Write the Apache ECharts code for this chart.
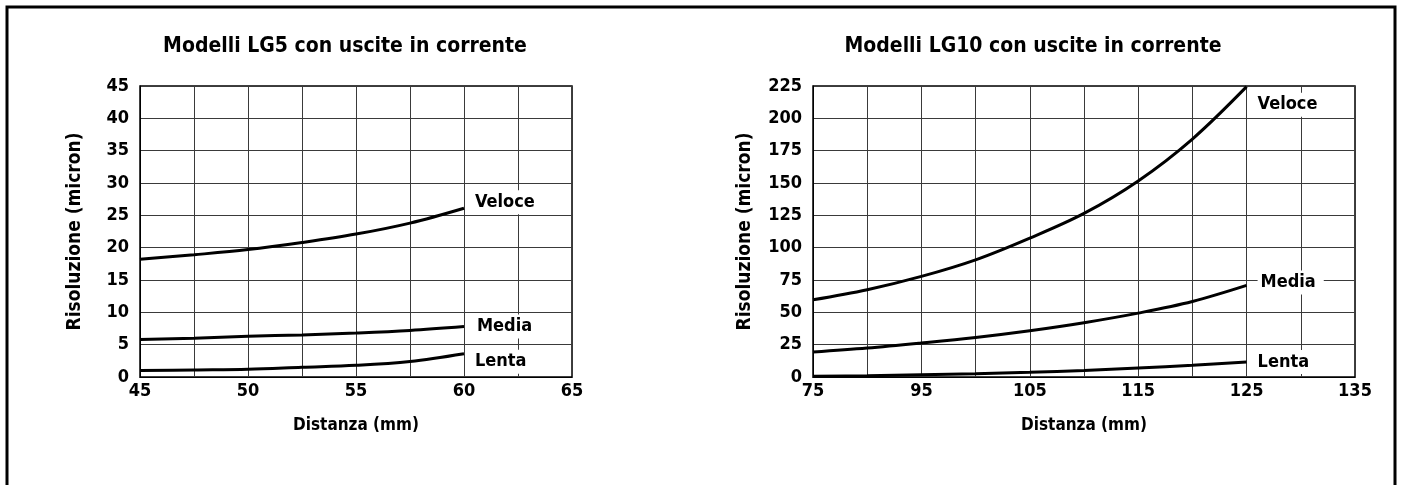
<!DOCTYPE html>
<html>
<head>
<meta charset="utf-8">
<script src="https://cdn.jsdelivr.net/npm/echarts@6/dist/echarts.min.js"></script>
<style>
html,body{margin:0;padding:0;background:#fff;}
#c{width:1401px;height:485px;}
</style>
</head>
<body>
<div id="c"></div>
<script>
// ---- data: LG5 ----
var lg5Title = 'Modelli LG5 con uscite in corrente';
var lg5X = [45, 47.5, 50, 52.5, 55, 57.5, 60];
var lg5Veloce = [18.2, 18.9, 19.7, 20.8, 22.1, 23.8, 26.1];
var lg5Media = [5.8, 6.0, 6.3, 6.5, 6.8, 7.2, 7.8];
var lg5Lenta = [1.0, 1.1, 1.2, 1.5, 1.8, 2.4, 3.6];
var lg5XTicks = [45, 50, 55, 60, 65];

// ---- data: LG10 ----
var lg10Title = 'Modelli LG10 con uscite in corrente';
var lg10X = [85, 90, 95, 100, 105, 110, 115, 120, 125];
var lg10Veloce = [59.7, 67.5, 77.8, 90.6, 107.4, 126.5, 151.6, 184, 224.5];
var lg10Media = [19.3, 22.4, 26.3, 30.6, 35.8, 42, 49.4, 58.4, 70.8];
var lg10Lenta = [0.5, 1.0, 1.8, 2.6, 3.6, 5.1, 7.0, 9.0, 11.6];
var lg10XTickValues = [85, 95, 105, 115, 125, 135];
var lg10XTickLabels = ['75', '95', '105', '115', '125', '135'];

var seriesNames = ['Veloce', 'Media', 'Lenta'];
var yName = 'Risoluzione (micron)';
var xName = 'Distanza (mm)';

var FONT = '"Liberation Sans Narrow","DejaVu Sans Condensed","Roboto",sans-serif';

function pairs(xs, ys){ return xs.map(function(x,i){return [x, ys[i]];}); }

var chart = echarts.init(document.getElementById('c'), null, {renderer:'canvas'});

var txt = {fontFamily: FONT, fontWeight: 'bold', color: '#000'};

function yAxisCfg(gi, max, interval){
  return {
    type:'value', gridIndex: gi, min:0, max:max, interval:interval,
    axisLine:{show:true, lineStyle:{color:'#000', width:1}},
    axisTick:{show:false},
    axisLabel:Object.assign({fontSize:18, margin:11}, txt),
    splitLine:{show:true, lineStyle:{color:'#3a3a3a', width:1}}
  };
}

function lineSeries(name, xi, data, offset){
  return {
    type:'line', name:name, xAxisIndex:xi, yAxisIndex:xi,
    data:data, smooth:0.35, symbol:'none', silent:true,
    lineStyle:{color:'#000', width:3},
    endLabel:Object.assign({show:true, formatter:name, fontSize:18, distance:8,
      offset:offset, backgroundColor:'#fff', padding:[3,8,3,3]}, txt)
  };
}

var option = {
  backgroundColor:'#fff',
  animation:false,
  grid:[
    {left:140, top:86, width:432, height:291, show:true, borderColor:'#000', borderWidth:1.5, backgroundColor:'transparent'},
    {left:813, top:86, width:542, height:291, show:true, borderColor:'#000', borderWidth:1.5, backgroundColor:'transparent'}
  ],
  xAxis:[
    {type:'value', gridIndex:0, min:45, max:65, interval:2.5,
     name:xName, nameLocation:'middle', nameGap:40,
     nameTextStyle:Object.assign({fontSize:17}, txt),
     axisLine:{show:true, lineStyle:{color:'#000'}}, axisTick:{show:false},
     axisLabel:Object.assign({fontSize:18, margin:5,
       formatter:function(v){ return lg5XTicks.indexOf(v) >= 0 ? String(v) : ''; }}, txt),
     splitLine:{show:true, lineStyle:{color:'#3a3a3a', width:1}}},
    {type:'value', gridIndex:1, min:85, max:135, interval:5,
     name:xName, nameLocation:'middle', nameGap:40,
     nameTextStyle:Object.assign({fontSize:17}, txt),
     axisLine:{show:true, lineStyle:{color:'#000'}}, axisTick:{show:false},
     axisLabel:Object.assign({fontSize:18, margin:5,
       formatter:function(v){ var i = lg10XTickValues.indexOf(v); return i >= 0 ? lg10XTickLabels[i] : ''; }}, txt),
     splitLine:{show:true, lineStyle:{color:'#3a3a3a', width:1}}}
  ],
  yAxis:[
    Object.assign(yAxisCfg(0, 45, 5), {name:yName, nameLocation:'middle', nameGap:55, nameTextStyle:Object.assign({fontSize:19}, txt)}),
    Object.assign(yAxisCfg(1, 225, 25), {name:yName, nameLocation:'middle', nameGap:58, nameTextStyle:Object.assign({fontSize:19}, txt)})
  ],
  series:[
    lineSeries(seriesNames[0], 0, pairs(lg5X, lg5Veloce), [0,-6]),
    lineSeries(seriesNames[1], 0, pairs(lg5X, lg5Media), [2,0]),
    lineSeries(seriesNames[2], 0, pairs(lg5X, lg5Lenta), [0,8]),
    lineSeries(seriesNames[0], 1, pairs(lg10X, lg10Veloce), [0,18]),
    lineSeries(seriesNames[1], 1, pairs(lg10X, lg10Media), [3,-3]),
    lineSeries(seriesNames[2], 1, pairs(lg10X, lg10Lenta), [0,0])
  ],
  graphic:[
    {type:'polyline', shape:{points:[[7,500],[7,7],[1395,7],[1395,500]]},
     style:{stroke:'#000', lineWidth:3, fill:null}, silent:true},
    {type:'text', x:345, y:47, style:{text:lg5Title, font:'bold 21px '+FONT, fill:'#000', align:'center', verticalAlign:'middle'}, silent:true},
    {type:'text', x:1033, y:47, style:{text:lg10Title, font:'bold 21px '+FONT, fill:'#000', align:'center', verticalAlign:'middle'}, silent:true}
  ]
};
chart.setOption(option);
</script>
</body>
</html>
